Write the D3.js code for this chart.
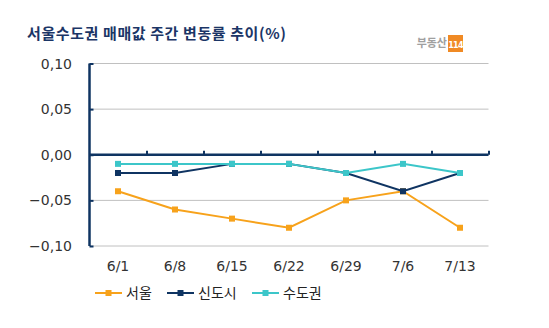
<!DOCTYPE html>
<html><head><meta charset="utf-8">
<script src="https://cdn.jsdelivr.net/npm/d3@7"></script>
<style>body{margin:0;background:#fff}svg{display:block}</style>
</head><body>
<script>
const categories = ["6/1","6/8","6/15","6/22","6/29","7/6","7/13"];
const seoul   = [-0.04,-0.06,-0.07,-0.08,-0.05,-0.04,-0.08];
const newTown = [-0.02,-0.02,-0.01,-0.01,-0.02,-0.04,-0.02];
const metro   = [-0.01,-0.01,-0.01,-0.01,-0.02,-0.01,-0.02];
const seriesNames = ["서울","신도시","수도권"];
const yTicks = [0.10,0.05,0.00,-0.05,-0.10];
const title = "서울수도권 매매값 주간 변동률 추이(%)";

const W=549,H=328;
const svg=d3.select("body").append("svg").attr("width",W).attr("height",H);
const navy="#0f3462", orange="#f7a21b", cyan="#3cc6c9";
const font="'DejaVu Sans', sans-serif";
const kfont="'Noto Sans CJK KR', sans-serif";

svg.append("text").attr("x",27).attr("y",39).attr("font-family",kfont).attr("font-weight","bold")
  .attr("font-size",15).attr("letter-spacing",0.6).attr("fill","#1b3566").text(title);

// logo
svg.append("text").attr("x",447).attr("y",47).attr("text-anchor","end").attr("font-family",kfont)
  .attr("font-weight","bold").attr("font-size",11).attr("fill","#a0a0a0").text("부동산");
svg.append("rect").attr("x",448).attr("y",35).attr("width",15).attr("height",17).attr("fill","#f08a24");
svg.append("text").attr("x",455.5).attr("y",47.5).attr("text-anchor","middle").attr("font-family",font)
  .attr("font-weight","bold").attr("font-size",8).attr("letter-spacing",-0.8).attr("fill","#fff").text("114");

const x=d3.scaleBand().domain(categories).range([89.5,488.5]);
const y=d3.scaleLinear().domain([-0.10,0.10]).range([246,63.5]);
const fmt=d=>d3.format(".2f")(d).replace(".",",").replace("-","\u2212");

// gridlines
svg.append("g").selectAll("line").data(yTicks).join("line")
  .attr("x1",89.5).attr("x2",488.5).attr("y1",d=>y(d)).attr("y2",d=>y(d))
  .attr("stroke","#c0c0c0").attr("stroke-width",1);

// y axis
const yAxis=svg.append("g").attr("transform","translate(89.5,0)")
  .call(d3.axisRight(y).tickValues(yTicks).tickSize(4).tickFormat(""));
yAxis.select(".domain").attr("stroke",navy).attr("stroke-width",2.5).attr("d",`M0,${y(0.10)}V${y(-0.10)}`);
yAxis.selectAll(".tick line").attr("stroke",navy).attr("stroke-width",2);
svg.append("g").selectAll("text").data(yTicks).join("text")
  .attr("x",72).attr("y",d=>y(d)+5).attr("text-anchor","end").attr("font-family",font)
  .attr("font-size",14).attr("fill","#333").text(fmt);

// x axis at zero
const xAxis=svg.append("g").attr("transform",`translate(0,${y(0)})`)
  .call(d3.axisTop(d3.scaleLinear().domain([0,7]).range([89.5,488.5])).tickValues([1,2,3,4,5,6,7]).tickSize(4).tickFormat(""));
xAxis.select(".domain").attr("stroke",navy).attr("stroke-width",2.5).attr("d","M89.5,0H488.5");
xAxis.selectAll(".tick line").attr("stroke",navy).attr("stroke-width",2);

svg.append("g").selectAll("text").data(categories).join("text")
  .attr("x",d=>x(d)+x.bandwidth()/2).attr("y",271).attr("text-anchor","middle")
  .attr("font-family",font).attr("font-size",14).attr("fill","#333").text(d=>d);

const series=[{name:seriesNames[0],vals:seoul,c:orange},{name:seriesNames[1],vals:newTown,c:navy},{name:seriesNames[2],vals:metro,c:cyan}];
const line=d3.line().x((d,i)=>x(categories[i])+x.bandwidth()/2).y(d=>y(d));
series.forEach(s=>{
  svg.append("path").attr("d",line(s.vals)).attr("fill","none").attr("stroke",s.c).attr("stroke-width",2);
  svg.append("g").selectAll("rect").data(s.vals).join("rect")
    .attr("x",(d,i)=>x(categories[i])+x.bandwidth()/2-3).attr("y",d=>y(d)-3)
    .attr("width",6).attr("height",6).attr("fill",s.c);
});

// legend
const legX=[95,167,252];
series.forEach((s,i)=>{
  const g=svg.append("g").attr("transform",`translate(${legX[i]},293)`);
  g.append("line").attr("x1",0).attr("x2",27).attr("stroke",s.c).attr("stroke-width",2);
  g.append("rect").attr("x",10.5).attr("y",-3).attr("width",6).attr("height",6).attr("fill",s.c);
  g.append("text").attr("x",31).attr("y",5).attr("font-family",kfont).attr("font-size",14)
    .attr("fill","#222").text(s.name);
});
</script>
</body></html>
